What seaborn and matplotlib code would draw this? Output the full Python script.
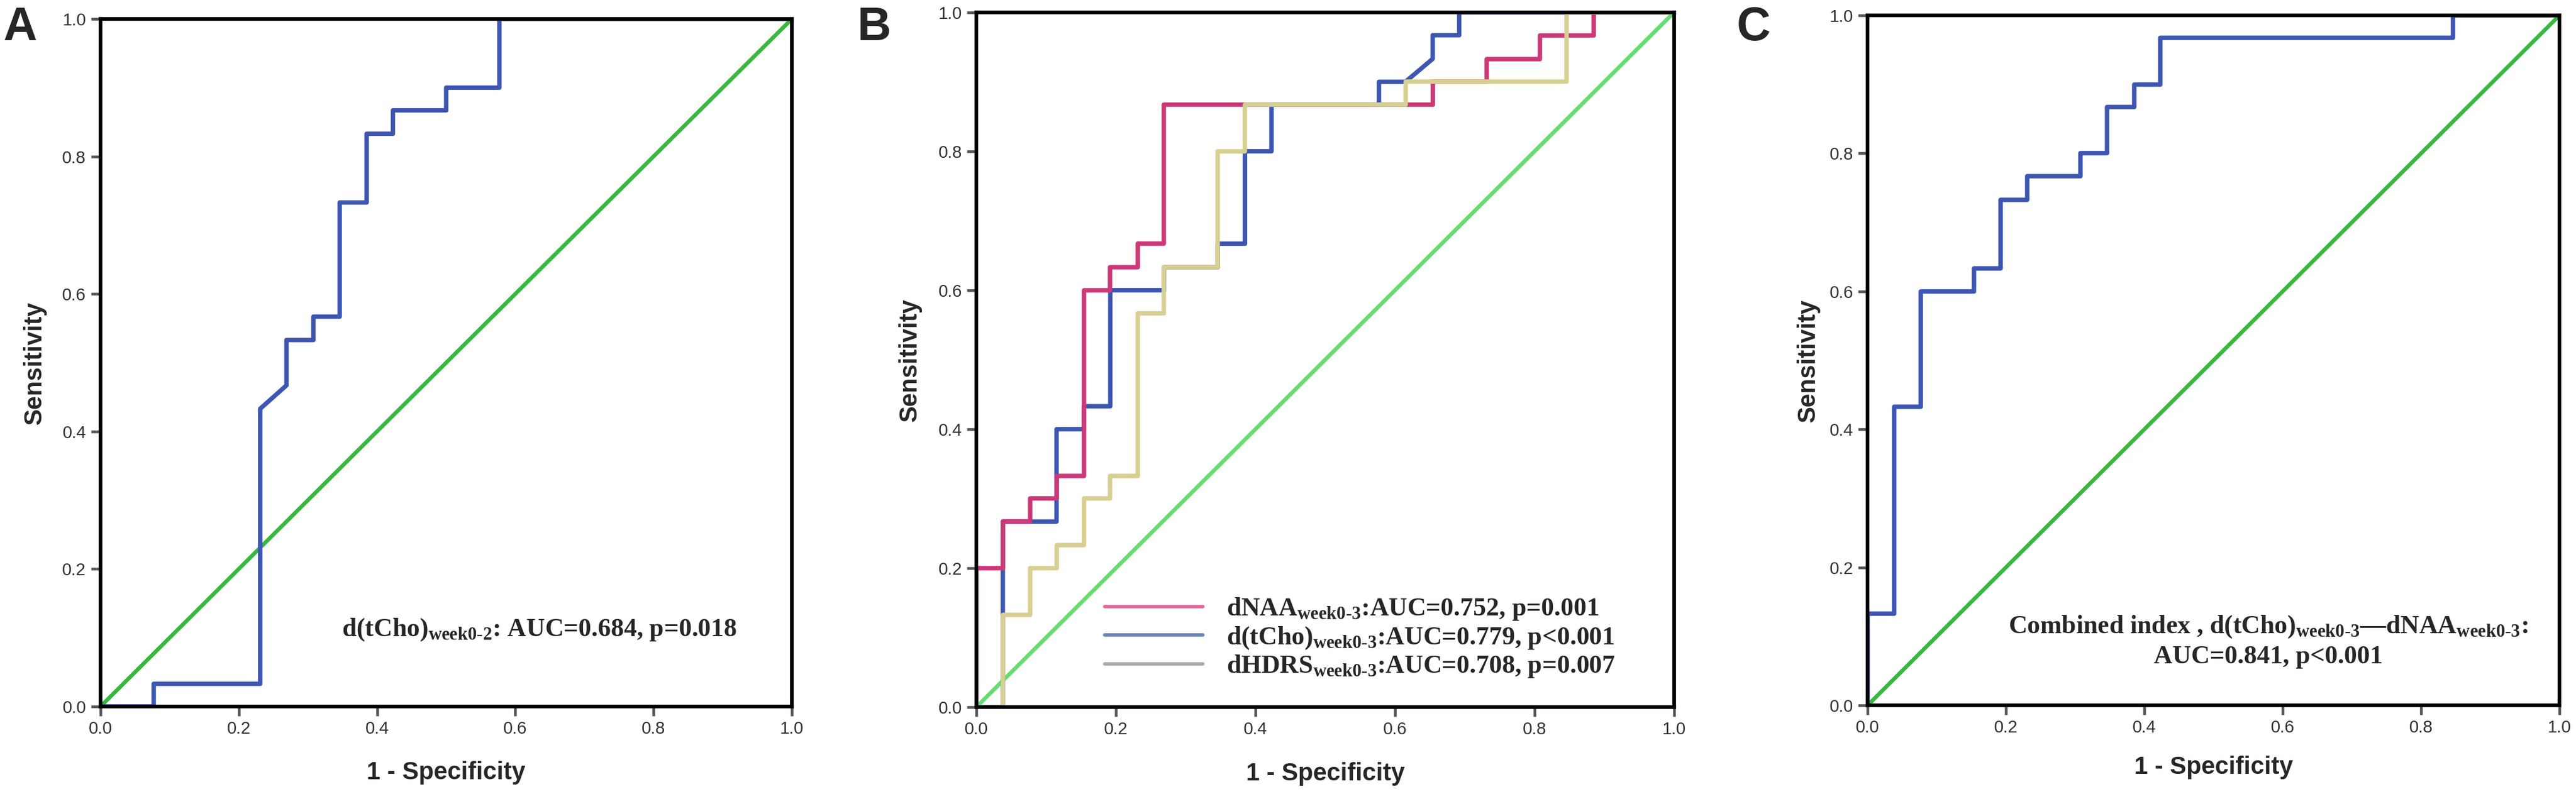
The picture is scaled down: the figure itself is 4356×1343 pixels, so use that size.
import pandas as pd
import seaborn as sns
import matplotlib.pyplot as plt
from matplotlib.lines import Line2D

# ROC coordinates (1 - specificity, sensitivity)
a_fpr = [0, 0.077, 0.077, 0.231, 0.231, 0.269, 0.269, 0.308, 0.308, 0.346, 0.346,
         0.385, 0.385, 0.423, 0.423, 0.5, 0.5, 0.577, 0.577, 1.0]
a_tpr = [0, 0, 0.033, 0.033, 0.433, 0.467, 0.533, 0.533, 0.567, 0.567, 0.733,
         0.733, 0.833, 0.833, 0.867, 0.867, 0.9, 0.9, 1.0, 1.0]

naa_fpr = [0, 0, 0.038, 0.038, 0.077, 0.077, 0.115, 0.115, 0.154, 0.154, 0.192, 0.192,
           0.231, 0.231, 0.269, 0.269, 0.654, 0.654, 0.731, 0.731, 0.808, 0.808, 0.885, 0.885, 1.0]
naa_tpr = [0, 0.2, 0.2, 0.267, 0.267, 0.3, 0.3, 0.333, 0.333, 0.6, 0.6, 0.633,
           0.633, 0.667, 0.667, 0.867, 0.867, 0.9, 0.9, 0.933, 0.933, 0.967, 0.967, 1.0, 1.0]

cho_fpr = [0, 0.038, 0.038, 0.115, 0.115, 0.154, 0.154, 0.192, 0.192, 0.269, 0.269, 0.346,
           0.346, 0.385, 0.385, 0.423, 0.423, 0.577, 0.577, 0.615, 0.654, 0.654, 0.692, 0.692, 1.0]
cho_tpr = [0, 0, 0.267, 0.267, 0.4, 0.4, 0.433, 0.433, 0.6, 0.6, 0.633, 0.633,
           0.667, 0.667, 0.8, 0.8, 0.867, 0.867, 0.9, 0.9, 0.933, 0.967, 0.967, 1.0, 1.0]

hdrs_fpr = [0, 0.038, 0.038, 0.077, 0.077, 0.115, 0.115, 0.154, 0.154, 0.192, 0.192, 0.231,
            0.231, 0.269, 0.269, 0.346, 0.346, 0.385, 0.385, 0.615, 0.615, 0.846, 0.846, 1.0]
hdrs_tpr = [0, 0, 0.133, 0.133, 0.2, 0.2, 0.233, 0.233, 0.3, 0.3, 0.333, 0.333,
            0.567, 0.567, 0.633, 0.633, 0.8, 0.8, 0.867, 0.867, 0.9, 0.9, 1.0, 1.0]

c_fpr = [0, 0, 0.038, 0.038, 0.077, 0.077, 0.154, 0.154, 0.192, 0.192, 0.231, 0.231,
         0.308, 0.308, 0.346, 0.346, 0.385, 0.385, 0.423, 0.423, 0.846, 0.846, 1.0]
c_tpr = [0, 0.133, 0.133, 0.433, 0.433, 0.6, 0.6, 0.633, 0.633, 0.733, 0.733, 0.767,
         0.767, 0.8, 0.8, 0.867, 0.867, 0.9, 0.9, 0.967, 0.967, 1.0, 1.0]

diag = [0, 1]
ticks = [0.0, 0.2, 0.4, 0.6, 0.8, 1.0]

legend_labels = [r"dNAA$_{\mathbf{week0\text{-}3}}$:AUC=0.752, p=0.001",
                 r"d(tCho)$_{\mathbf{week0\text{-}3}}$:AUC=0.779, p<0.001",
                 r"dHDRS$_{\mathbf{week0\text{-}3}}$:AUC=0.708, p=0.007"]
text_a = r"d(tCho)$_{\mathbf{week0\text{-}2}}$: AUC=0.684, p=0.018"
text_c1 = r"Combined index , d(tCho)$_{\mathbf{week0\text{-}3}}$—dNAA$_{\mathbf{week0\text{-}3}}$:"
text_c2 = "AUC=0.841, p<0.001"

BLUE = "#3d56b2"
PINK = "#cc3878"
BEIGE = "#d8cf92"
GREEN = "#38b83f"
GREEN_B = "#66dc72"

sns.set_theme(style="white")
plt.rcParams["font.family"] = ["Liberation Sans", "DejaVu Sans"]
plt.rcParams["mathtext.fontset"] = "custom"
plt.rcParams["mathtext.rm"] = "Liberation Serif"
plt.rcParams["mathtext.bf"] = "Liberation Serif:bold"
plt.rcParams["mathtext.it"] = "Liberation Serif:italic"

fig = plt.figure(figsize=(14.52, 4.4767), dpi=300)
ax_a = fig.add_axes([0.0390, 0.1102, 0.2684, 0.866])
ax_b = fig.add_axes([0.3790, 0.1095, 0.2709, 0.875])
ax_c = fig.add_axes([0.7250, 0.1117, 0.2686, 0.869])


def draw_curve(ax, fpr, tpr, color, lw=1.8):
    df = pd.DataFrame({"fpr": fpr, "tpr": tpr})
    sns.lineplot(data=df, x="fpr", y="tpr", sort=False, estimator=None,
                 color=color, lw=lw, ax=ax, legend=False)


def style_axes(ax, ylab_x, xlab_y):
    ax.set_xlim(0, 1)
    ax.set_ylim(0, 1)
    ax.set_xticks(ticks)
    ax.set_yticks(ticks)
    ax.set_xticklabels([f"{t:.1f}" for t in ticks])
    ax.set_yticklabels([f"{t:.1f}" for t in ticks])
    ax.tick_params(axis="both", which="both", direction="out", length=3.8, width=1.1,
                   color="#555555", labelsize=7, labelcolor="#333333", pad=2,
                   bottom=True, left=True)
    for s in ax.spines.values():
        s.set_linewidth(1.5)
        s.set_color("black")
    ax.set_xlabel("1 - Specificity", fontsize=10, fontweight="bold")
    ax.set_ylabel("Sensitivity", fontsize=10, fontweight="bold")
    ax.yaxis.set_label_coords(ylab_x, 0.5)
    ax.xaxis.set_label_coords(0.5, xlab_y)


serif = dict(family="Liberation Serif", fontweight="bold", fontsize=10.5)

# panel A
draw_curve(ax_a, diag, diag, GREEN, lw=1.6)
draw_curve(ax_a, a_fpr, a_tpr, BLUE)
style_axes(ax_a, -0.078, -0.079)
ax_a.text(0.349, 0.103, text_a, ha="left", va="baseline", **serif)

# panel B
draw_curve(ax_b, diag, diag, GREEN_B, lw=1.6)
draw_curve(ax_b, cho_fpr, cho_tpr, BLUE)
draw_curve(ax_b, naa_fpr, naa_tpr, PINK)
draw_curve(ax_b, hdrs_fpr, hdrs_tpr, BEIGE)
style_axes(ax_b, -0.078, -0.079)
handles = [Line2D([], [], color="#e06a9e", lw=1.4),
           Line2D([], [], color="#7086b8", lw=1.4),
           Line2D([], [], color="#aaaaaa", lw=1.4)]
leg = ax_b.legend(handles, legend_labels, loc="lower left", bbox_to_anchor=(0.184, 0.04),
                  frameon=False, handlelength=3.8, handletextpad=0.9, labelspacing=0.1,
                  borderpad=0, borderaxespad=0,
                  prop={"family": "Liberation Serif", "weight": "bold", "size": 10.5})

# panel C
draw_curve(ax_c, diag, diag, GREEN, lw=1.6)
draw_curve(ax_c, c_fpr, c_tpr, BLUE)
style_axes(ax_c, -0.069, -0.073)
ax_c.text(0.579, 0.105, text_c1, ha="center", va="baseline", **serif)
ax_c.text(0.579, 0.061, text_c2, ha="center", va="baseline", **serif)

for x, letter in [(0.0011, "A"), (0.3329, "B"), (0.6742, "C")]:
    fig.text(x, 0.9494, letter, fontsize=19, fontweight="bold", ha="left", va="baseline")

fig.savefig("out.png", dpi=300)
